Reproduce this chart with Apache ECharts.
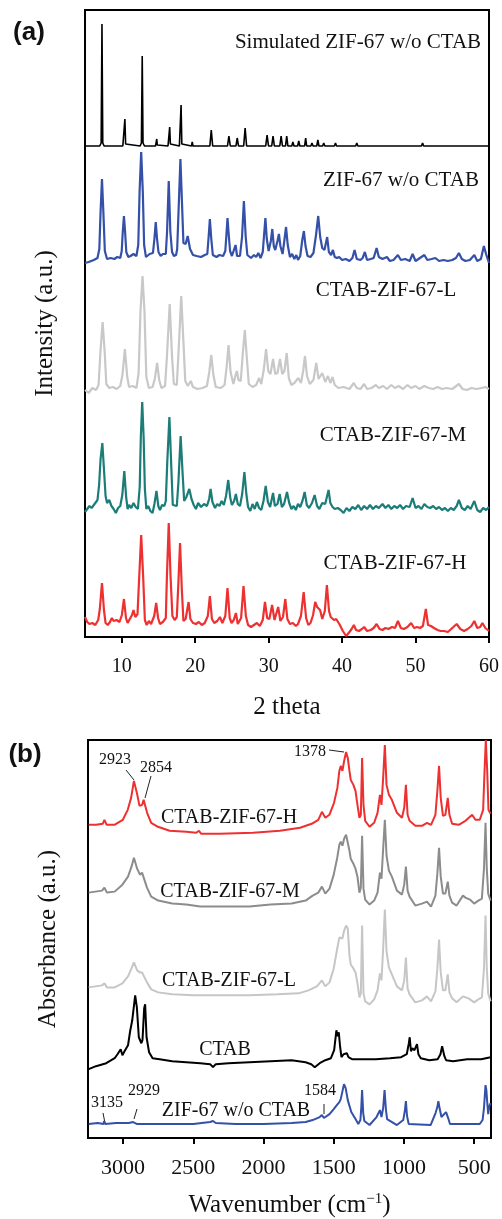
<!DOCTYPE html>
<html>
<head>
<meta charset="utf-8">
<script src="https://cdn.jsdelivr.net/npm/echarts@6/dist/echarts.min.js"></script>
<style>
  html, body { margin: 0; padding: 0; background: #fff; }
  #main { width: 502px; height: 1219px; }
</style>
</head>
<body>
<div id="main"></div>
<script>
// ---- (a) XRD, [2theta, intensity + offset] ----
var simulatedXrd = [[5,491],[7.0,491],[7.2,494],[7.31,613],[7.42,494],[7.6,491],
  [10.15,491],[10.33,493],[10.43,518],[10.53,493],[10.7,491],
  [12.5,491],[12.68,494],[12.79,581],[12.9,494],[13.1,491],
  [14.6,491],[14.7,492],[14.77,498],[14.84,492],[14.95,491],
  [16.3,491],[16.44,493],[16.53,510],[16.62,493],[16.8,491],
  [17.85,491],[17.98,493],[18.08,532],[18.18,493],[18.35,491],
  [19.5,491],[19.6,495],[19.7,491],[22.0,491],[22.19,507],[22.38,491],
  [24.4,491],[24.59,501],[24.78,491],[25.55,491],[25.72,499],[25.9,491],
  [26.6,491],[26.8,509],[27.0,491],[29.6,491],[29.79,502],[29.98,491],
  [30.42,491],[30.6,501],[30.78,491],[31.52,491],[31.7,501],[31.88,491],
  [32.3,491],[32.46,501],[32.62,491],[33.15,491],[33.3,495],[33.45,491],
  [33.95,491],[34.1,496],[34.25,491],[34.9,491],[35.04,499],[35.18,491],
  [35.75,491],[35.9,494],[36.05,491],[36.55,491],[36.7,497],[36.85,491],
  [37.35,491],[37.5,494],[37.65,491],[38.95,491],[39.1,494],[39.25,491],
  [41.85,491],[42.0,494],[42.15,491],[43.05,491],[43.2,493],[43.35,491],
  [44.05,491],[44.2,493],[44.35,491],[45.1,491],[45.25,493],[45.4,491],
  [46.5,491],[46.65,493],[46.8,491],[48.0,491],[48.15,493],[48.3,491],
  [49.0,491],[49.15,493],[49.3,491],[49.82,491],[49.97,493],[50.12,491],
  [50.8,491],[50.96,494],[51.1,491],[51.95,491],[52.1,493],[52.25,491],
  [53.05,491],[53.2,493],[53.35,491],[54.05,491],[54.2,493],[54.35,491],
  [55.1,491],[55.25,493],[55.4,491],[56.45,491],[56.6,493],[56.75,491],
  [57.55,491],[57.7,493],[57.85,491],[58.75,491],[58.9,493],[59.05,491],[60,491]];

var zif67Xrd = [[5.0,374],[5.5,375],[6.2,377],[6.7,379],[6.95,388],[7.12,425],[7.31,458],[7.5,425],[7.7,386],[8.0,378],[8.5,379],[9.0,378],[9.4,380],[9.8,379],[10.0,386],[10.14,405],[10.3,421],[10.46,405],[10.62,385],[10.9,380],[11.2,381],[11.6,383],[12.0,381],[12.25,392],[12.43,445],[12.65,485],[12.87,445],[13.05,392],[13.3,380],[13.8,383],[14.25,384],[14.45,398],[14.63,415],[14.81,398],[15.0,385],[15.3,381],[15.6,383],[16.0,383],[16.17,405],[16.4,456],[16.62,405],[16.85,385],[17.1,381],[17.4,382],[17.55,388],[17.78,435],[17.99,478],[18.2,435],[18.4,394],[18.7,393],[18.98,401],[19.3,388],[19.7,382],[20.2,381],[20.8,380],[21.3,382],[21.65,383],[21.83,400],[22.0,418],[22.17,400],[22.4,382],[22.9,380],[23.3,382],[23.8,381],[24.1,386],[24.25,402],[24.4,419],[24.57,402],[24.75,386],[25.0,381],[25.2,383],[25.5,392],[25.7,381],[26.1,381],[26.38,400],[26.63,436],[26.88,400],[27.1,382],[27.6,379],[28.0,382],[28.3,380],[28.6,384],[28.9,379],[29.2,385],[29.38,402],[29.56,419],[29.75,398],[30.0,386],[30.3,396],[30.5,408],[30.7,391],[30.9,387],[31.2,396],[31.4,403],[31.6,391],[31.9,383],[32.15,397],[32.37,410],[32.6,392],[32.9,380],[33.2,383],[33.5,378],[33.77,382],[34.0,377],[34.3,381],[34.58,397],[34.8,406],[35.02,391],[35.3,381],[35.7,380],[36.1,384],[36.45,402],[36.75,421],[37.02,400],[37.3,389],[37.6,387],[37.97,400],[38.2,385],[38.5,382],[38.75,387],[39.0,380],[39.3,379],[39.6,380],[40.0,377],[40.5,378],[41.0,376],[41.4,379],[41.7,387],[42.0,378],[42.5,377],[42.8,379],[43.1,385],[43.4,377],[43.9,378],[44.3,379],[44.7,389],[45.0,380],[45.5,378],[46.1,380],[46.5,376],[47.0,377],[47.6,382],[48.0,377],[48.6,378],[49.2,376],[49.6,383],[50.0,376],[50.6,379],[51.2,382],[51.6,377],[52.2,378],[52.7,379],[53.2,376],[53.8,377],[54.4,376],[55.0,377],[55.5,379],[55.9,384],[56.3,378],[56.8,376],[57.4,377],[58.0,382],[58.4,376],[58.9,378],[59.3,391],[59.6,383],[60,374]];

var ctabLXrd = [[5.0,247],[5.5,244],[6.0,249],[6.5,247],[6.85,252],[7.1,285],[7.4,315],[7.68,285],[7.9,253],[8.3,249],[8.8,250],[9.3,248],[9.8,251],[10.1,262],[10.43,288],[10.75,260],[11.0,250],[11.5,251],[12.0,249],[12.3,264],[12.55,325],[12.83,361],[13.1,325],[13.35,260],[13.7,249],[14.2,250],[14.5,258],[14.82,274],[15.1,257],[15.4,249],[15.9,251],[16.15,280],[16.53,333],[16.85,280],[17.1,253],[17.5,252],[17.8,295],[18.1,341],[18.4,295],[18.65,256],[19.0,251],[19.4,256],[19.7,250],[20.3,248],[21.0,249],[21.6,251],[21.92,265],[22.19,282],[22.48,262],[22.8,250],[23.5,249],[24.0,252],[24.28,270],[24.54,292],[24.82,265],[25.2,253],[25.5,262],[25.68,266],[25.9,257],[26.2,256],[26.5,285],[26.76,307],[27.02,280],[27.3,253],[27.8,250],[28.3,252],[28.7,259],[29.0,253],[29.35,268],[29.65,288],[29.95,266],[30.25,263],[30.6,278],[30.9,263],[31.2,264],[31.55,278],[31.85,263],[32.15,266],[32.46,284],[32.75,259],[33.1,252],[33.5,254],[34.04,259],[34.4,254],[34.7,266],[34.95,281],[35.22,261],[35.6,253],[36.1,257],[36.48,274],[36.8,258],[37.3,264],[37.7,255],[38.07,261],[38.4,254],[38.7,260],[39.0,252],[39.5,249],[40.2,250],[41.0,248],[41.6,254],[42.0,249],[42.5,248],[43.0,253],[43.4,248],[44.0,249],[44.6,252],[45.0,249],[45.6,251],[46.1,248],[46.7,252],[47.2,249],[47.7,251],[48.3,248],[48.9,252],[49.4,249],[50.0,251],[50.5,248],[51.2,251],[51.8,249],[52.4,248],[53.0,250],[53.6,248],[54.2,249],[55.0,248],[55.9,253],[56.4,248],[57.0,247],[57.6,249],[58.3,248],[59.0,249],[59.5,250],[60,248]];

var ctabMXrd = [[5.0,125],[5.3,128],[5.6,131],[5.9,129],[6.3,133],[6.7,137],[6.92,152],[7.12,178],[7.36,194],[7.58,168],[7.8,141],[8.0,134],[8.3,137],[8.6,131],[8.9,128],[9.2,124],[9.5,129],[9.8,131],[10.08,142],[10.35,166],[10.6,140],[10.8,128],[11.0,132],[11.3,129],[11.6,134],[11.9,130],[12.2,128],[12.45,150],[12.6,200],[12.79,235],[12.98,200],[13.15,148],[13.35,128],[13.6,131],[13.9,126],[14.2,124],[14.45,133],[14.73,146],[14.98,131],[15.2,127],[15.5,132],[15.8,131],[16.0,136],[16.2,175],[16.49,220],[16.75,170],[16.95,132],[17.2,133],[17.5,131],[17.72,155],[18.02,201],[18.3,162],[18.5,136],[18.8,140],[19.2,148],[19.5,138],[19.8,132],[20.1,128],[20.4,134],[20.8,130],[21.2,133],[21.6,131],[21.9,138],[22.1,148],[22.35,135],[22.7,129],[23.0,133],[23.3,131],[23.6,136],[23.9,132],[24.2,141],[24.5,157],[24.78,139],[25.0,132],[25.3,136],[25.54,143],[25.8,133],[26.1,131],[26.4,143],[26.7,165],[26.98,142],[27.2,130],[27.5,126],[27.8,133],[28.1,128],[28.4,135],[28.7,129],[29.0,127],[29.3,136],[29.6,151],[29.9,135],[30.2,130],[30.6,144],[30.85,131],[31.2,133],[31.5,143],[31.8,130],[32.1,133],[32.5,145],[32.8,134],[33.1,128],[33.4,131],[33.7,127],[34.0,133],[34.3,130],[34.6,136],[34.9,145],[35.2,132],[35.5,129],[35.9,134],[36.26,142],[36.6,131],[36.9,128],[37.3,134],[37.7,133],[38.16,147],[38.4,134],[38.7,130],[39.0,128],[39.4,129],[39.8,127],[40.2,124],[40.6,129],[41.0,126],[41.4,130],[41.8,128],[42.2,132],[42.6,127],[43.0,131],[43.4,128],[43.8,132],[44.2,128],[44.6,131],[45.0,129],[45.5,133],[45.9,129],[46.3,132],[46.7,128],[47.1,131],[47.5,129],[47.9,132],[48.3,128],[48.7,131],[49.2,130],[49.6,139],[50.0,129],[50.4,131],[50.8,128],[51.2,133],[51.6,130],[52.0,129],[52.4,131],[52.8,128],[53.2,130],[53.6,127],[54.0,129],[54.4,126],[54.8,129],[55.2,127],[55.6,131],[55.9,137],[56.3,129],[56.7,127],[57.1,131],[57.5,128],[58.0,136],[58.4,127],[58.8,125],[59.2,129],[59.6,127],[60,130]];

var ctabHXrd = [[5.0,20],[5.3,15],[5.6,13],[6.0,14],[6.4,12],[6.8,17],[7.02,28],[7.31,54],[7.58,27],[7.8,14],[8.1,12],[8.4,15],[8.66,19],[8.9,16],[9.3,17],[9.7,15],[10.02,22],[10.3,38],[10.58,19],[10.8,14],[11.1,18],[11.4,22],[11.6,27],[11.85,20],[12.15,23],[12.38,60],[12.65,102],[12.92,60],[13.15,17],[13.4,12],[13.7,16],[14.0,13],[14.42,21],[14.69,34],[14.95,19],[15.2,13],[15.6,15],[16.0,19],[16.15,60],[16.4,114],[16.65,60],[16.9,21],[17.2,17],[17.5,20],[17.7,52],[17.94,94],[18.18,48],[18.4,16],[18.7,18],[19.1,35],[19.35,18],[19.7,14],[20.1,13],[20.5,15],[20.9,12],[21.3,14],[21.72,21],[22.0,41],[22.28,18],[22.6,14],[23.0,16],[23.37,20],[23.7,14],[24.1,21],[24.4,49],[24.7,19],[24.95,14],[25.25,17],[25.54,24],[25.8,13],[26.25,19],[26.58,51],[26.9,21],[27.2,12],[27.6,10],[28.0,12],[28.4,14],[28.8,11],[29.2,17],[29.5,35],[29.8,19],[30.1,18],[30.47,32],[30.8,17],[31.0,18],[31.3,30],[31.6,16],[31.95,20],[32.27,38],[32.55,18],[32.9,13],[33.3,14],[33.7,11],[34.0,13],[34.4,21],[34.77,45],[35.1,19],[35.4,12],[35.7,14],[36.05,22],[36.34,35],[36.6,30],[37.0,27],[37.3,18],[37.65,26],[37.93,52],[38.22,26],[38.45,20],[38.65,22],[38.9,17],[39.2,18],[39.4,17],[39.7,12],[40.1,6],[40.55,1],[41.0,5],[41.3,8],[41.6,12],[41.9,7],[42.3,6],[42.7,8],[43.0,10],[43.4,6],[43.9,7],[44.3,9],[44.7,13],[45.1,8],[45.5,7],[45.9,9],[46.3,8],[46.8,10],[47.2,9],[47.6,16],[48.0,9],[48.4,8],[48.9,10],[49.4,14],[49.8,9],[50.2,10],[50.6,9],[51.0,11],[51.4,28],[51.7,12],[52.1,11],[52.5,9],[53.0,7],[53.4,6],[53.9,6],[54.4,5],[55.0,9],[55.6,13],[56.1,8],[56.6,6],[57.1,8],[57.6,11],[58.0,16],[58.4,9],[58.8,10],[59.1,14],[59.5,9],[60,6]];

// ---- (b) FTIR, [wavenumber, absorbance + offset] ----
var ftirH = [[3245,314],[3193,314],[3145,315],[3133,319],[3117,314],[3062,314],[3002,319],[2967,329],[2943,341],[2923,358],[2902,346],[2883,333],[2864,334],[2854,339],[2829,326],[2800,316],[2752,312],[2669,308],[2550,307],[2479,306],[2460,308],[2443,305],[2312,305],[2074,306],[1883,308],[1740,311],[1657,315],[1610,319],[1584,327],[1560,321],[1531,324],[1498,336],[1474,351],[1460,368],[1450,373],[1438,368],[1426,378],[1412,387],[1400,381],[1388,368],[1379,359],[1369,361],[1360,354],[1345,348],[1331,334],[1317,321],[1307,324],[1298,381],[1288,334],[1276,318],[1245,312],[1212,316],[1188,326],[1171,344],[1160,334],[1148,361],[1136,394],[1124,354],[1107,344],[1086,339],[1050,326],[1014,321],[998,331],[986,354],[974,324],[960,318],[919,313],[872,313],[836,316],[807,314],[776,324],[762,348],[750,373],[738,341],[722,323],[705,324],[688,341],[676,324],[657,315],[610,314],[562,318],[514,324],[491,319],[460,319],[436,329],[426,368],[417,399],[407,368],[398,329],[383,325]];

var ftirM = [[3245,246],[3150,248],[3133,251],[3115,246],[3060,247],[3005,254],[2965,262],[2940,272],[2923,281],[2900,270],[2880,264],[2865,266],[2854,265],[2830,251],[2800,242],[2750,238],[2650,235],[2550,234],[2450,232],[2300,232],[2100,232],[1950,234],[1800,235],[1700,238],[1650,243],[1610,246],[1584,252],[1560,245],[1530,250],[1500,264],[1475,281],[1460,294],[1450,297],[1438,293],[1426,300],[1412,304],[1400,302],[1388,288],[1379,280],[1369,282],[1360,275],[1345,270],[1331,262],[1317,246],[1307,251],[1298,303],[1288,250],[1276,239],[1245,234],[1212,238],[1188,246],[1171,266],[1160,260],[1148,290],[1136,319],[1124,283],[1107,268],[1086,262],[1050,248],[1014,244],[998,254],[986,272],[974,248],[960,242],[919,233],[872,235],[836,237],[807,232],[776,243],[762,265],[750,291],[738,262],[722,245],[705,245],[688,257],[676,243],[657,236],[625,233],[580,243],[562,241],[530,239],[500,235],[470,238],[445,240],[430,270],[419,316],[410,270],[400,245],[383,238]];

var ftirL = [[3245,151],[3150,153],[3133,155],[3115,151],[3060,151],[3005,155],[2965,162],[2940,170],[2923,176],[2900,168],[2880,166],[2865,166],[2854,165],[2830,156],[2800,149],[2750,146],[2650,144],[2500,143],[2300,143],[2100,143],[1900,144],[1750,145],[1680,148],[1620,152],[1584,158],[1560,152],[1530,156],[1500,170],[1475,190],[1460,201],[1450,203],[1438,200],[1426,208],[1412,213],[1400,210],[1388,183],[1379,174],[1369,176],[1360,170],[1345,166],[1331,155],[1317,141],[1307,145],[1298,213],[1288,145],[1276,137],[1245,134],[1212,139],[1188,148],[1171,165],[1160,158],[1148,190],[1136,229],[1124,187],[1107,171],[1086,164],[1050,152],[1014,148],[998,158],[986,181],[974,150],[960,144],[919,136],[872,138],[836,142],[807,137],[776,147],[762,170],[750,199],[738,166],[722,148],[705,148],[688,164],[676,146],[657,140],[625,136],[580,142],[540,140],[500,136],[470,139],[445,141],[430,170],[419,223],[410,170],[400,145],[383,137]];

var ftirCtab = [[3245,69],[3193,72],[3120,75],[3060,80],[3040,84],[3017,89],[3005,83],[2990,87],[2965,93],[2950,107],[2935,118],[2914,143],[2902,131],[2888,101],[2870,95],[2862,98],[2850,130],[2843,134],[2833,101],[2815,86],[2790,80],[2740,79],[2650,77],[2550,76],[2450,75],[2380,74],[2360,71],[2340,74],[2250,75],[2100,76],[1950,77],[1800,78],[1700,76],[1660,74],[1635,71],[1600,75],[1560,78],[1520,80],[1497,88],[1481,108],[1474,102],[1464,106],[1455,92],[1445,81],[1430,84],[1418,86],[1407,85],[1395,81],[1370,79],[1300,79],[1200,79],[1100,80],[1020,81],[980,84],[965,95],[959,101],[950,87],[940,90],[925,88],[907,94],[897,84],[880,80],[820,78],[760,79],[740,84],[728,92],[721,93],[712,82],[700,78],[650,77],[550,79],[450,79],[383,81]];

var ftirZif = [[3245,14],[3180,15],[3140,14],[3135,17],[3128,14],[3050,15],[2960,15],[2929,16],[2900,14],[2700,14],[2500,14],[2380,16],[2360,17],[2340,15],[2200,14],[2000,14],[1800,15],[1700,16],[1650,18],[1600,21],[1584,23],[1570,20],[1530,24],[1500,29],[1478,33],[1460,36],[1450,39],[1438,37],[1427,54],[1415,50],[1400,38],[1375,26],[1345,19],[1325,14],[1310,18],[1304,30],[1298,48],[1290,25],[1282,17],[1245,13],[1195,21],[1171,28],[1160,21],[1148,30],[1138,48],[1128,28],[1120,19],[1050,13],[1005,18],[993,28],[986,37],[978,22],[966,14],[810,13],[775,25],[762,31],[755,37],[745,29],[733,21],[700,26],[693,27],[685,20],[672,14],[460,14],[440,18],[430,30],[419,53],[413,48],[408,38],[400,24],[392,32],[383,35]];

var xrdTicks = [10, 20, 30, 40, 50, 60];
var ftirTicks = [500, 1000, 1500, 2000, 2500, 3000];
var xrdNames = ['Simulated ZIF-67 w/o CTAB', 'ZIF-67 w/o CTAB', 'CTAB-ZIF-67-L', 'CTAB-ZIF-67-M', 'CTAB-ZIF-67-H'];
var ftirNames = ['CTAB-ZIF-67-H', 'CTAB-ZIF-67-M', 'CTAB-ZIF-67-L', 'CTAB', 'ZIF-67 w/o CTAB'];
var peakNotes = ['2923', '2854', '1378', '3135', '2929', '1584'];

var serif = '"Liberation Serif", "Times New Roman", serif';
var chart = echarts.init(document.getElementById('main'));

function lineSeries(name, data, color, idx, width) {
    return {
        name: name,
        type: 'line',
        xAxisIndex: idx,
        yAxisIndex: idx,
        data: data,
        showSymbol: false,
        symbol: 'none',
        silent: true,
        lineStyle: { color: color, width: width || 2 },
        z: 3
    };
}

function txt(x, y, s, size) {
    return {
        type: 'text', x: x, y: y,
        style: { text: s, font: (size || 20) + 'px ' + serif, fill: '#111', align: 'center', verticalAlign: 'middle' }
    };
}

// 引线
function lead(x1, y1, x2, y2) {
    return { type: 'line', shape: { x1: x1, y1: y1, x2: x2, y2: y2 }, style: { stroke: '#222', lineWidth: 1 } };
}

var axisCommon = {
    type: 'value',
    axisLine: { show: true, lineStyle: { color: '#000', width: 2 } },
    axisTick: { show: true, inside: false, length: 6, lineStyle: { color: '#000', width: 2 } },
    splitLine: { show: false },
    nameLocation: 'middle'
};

var plain = function (v) { return String(v); };

var option = {
    animation: false,
    backgroundColor: '#fff',
    grid: [
        { left: 85, right: 12, top: 10, bottom: 582, show: true, borderColor: '#000', borderWidth: 2 },
        { left: 88, right: 11, top: 740, bottom: 80, show: true, borderColor: '#000', borderWidth: 2 }
    ],
    xAxis: [
        Object.assign({}, axisCommon, {
            gridIndex: 0, min: 5, max: 60,
            name: '2 theta', nameGap: 58,
            nameTextStyle: { fontFamily: serif, fontSize: 25, color: '#111' },
            axisTick: Object.assign({}, axisCommon.axisTick, { customValues: xrdTicks }),
            axisLabel: { customValues: xrdTicks, formatter: plain, fontFamily: serif, fontSize: 20, color: '#111', margin: 20 }
        }),
        Object.assign({}, axisCommon, {
            gridIndex: 1, min: 380, max: 3250, inverse: true,
            name: 'Wavenumber (cm{sup|\u22121})', nameGap: 54,
            nameTextStyle: {
                fontFamily: serif, fontSize: 25, color: '#111',
                rich: { sup: { fontFamily: serif, fontSize: 15, color: '#111', verticalAlign: 'top', padding: [0, 0, 12, 0] } }
            },
            axisTick: Object.assign({}, axisCommon.axisTick, { customValues: ftirTicks }),
            axisLabel: { customValues: ftirTicks, formatter: plain, fontFamily: serif, fontSize: 22, color: '#111', margin: 19 }
        })
    ],
    yAxis: [
        {
            type: 'value', gridIndex: 0, min: 0, max: 627,
            axisLine: { show: false }, axisTick: { show: false }, axisLabel: { show: false }, splitLine: { show: false },
            name: 'Intensity (a.u.)', nameLocation: 'middle', nameGap: 27,
            nameTextStyle: { fontFamily: serif, fontSize: 25, color: '#111' }
        },
        {
            type: 'value', gridIndex: 1, min: 0, max: 399,
            axisLine: { show: false }, axisTick: { show: false }, axisLabel: { show: false }, splitLine: { show: false },
            name: 'Absorbance (a.u.)', nameLocation: 'middle', nameGap: 27,
            nameTextStyle: { fontFamily: serif, fontSize: 25, color: '#111' }
        }
    ],
    series: [
        lineSeries(xrdNames[0], simulatedXrd, '#000000', 0, 1.6),
        lineSeries(xrdNames[1], zif67Xrd, '#3450a8', 0, 2.2),
        lineSeries(xrdNames[2], ctabLXrd, '#c8c8c8', 0, 2.2),
        lineSeries(xrdNames[3], ctabMXrd, '#1b7c78', 0, 2.2),
        lineSeries(xrdNames[4], ctabHXrd, '#ee3030', 0, 2.2),
        lineSeries(ftirNames[0], ftirH, '#ee3030', 1, 2),
        lineSeries(ftirNames[1], ftirM, '#8c8c8c', 1, 2),
        lineSeries(ftirNames[2], ftirL, '#c6c6c6', 1, 2),
        lineSeries(ftirNames[3], ftirCtab, '#000000', 1, 2),
        lineSeries(ftirNames[4], ftirZif, '#3450a8', 1, 2)
    ],
    graphic: [
        { type: 'text', x: 29, y: 33, style: { text: '(a)', font: 'bold 26px "Liberation Sans", Arial, sans-serif', fill: '#111', align: 'center', verticalAlign: 'middle' } },
        { type: 'text', x: 25, y: 755, style: { text: '(b)', font: 'bold 26px "Liberation Sans", Arial, sans-serif', fill: '#111', align: 'center', verticalAlign: 'middle' } },
        txt(358, 42, xrdNames[0], 21),
        txt(401, 180, xrdNames[1], 21),
        txt(386, 290, xrdNames[2], 21),
        txt(393, 435, xrdNames[3], 21),
        txt(395, 563, xrdNames[4], 21),
        txt(229, 818, ftirNames[0], 20),
        txt(230, 892, ftirNames[1], 20),
        txt(229, 981, ftirNames[2], 20),
        txt(225, 1050, ftirNames[3], 20),
        txt(236, 1111, ftirNames[4], 20),
        txt(115, 760, peakNotes[0], 16),
        txt(156, 768, peakNotes[1], 16),
        txt(310, 752, peakNotes[2], 16),
        txt(107, 1103, peakNotes[3], 16),
        txt(144, 1091, peakNotes[4], 16),
        txt(320, 1091, peakNotes[5], 16),
        lead(126, 770, 134, 780),
        lead(151, 776, 145, 798),
        lead(329, 750, 344, 752),
        lead(103, 1113, 105, 1123),
        lead(137, 1109, 134, 1119),
        lead(324, 1104, 324, 1114)
    ]
};

chart.setOption(option);
</script>
</body>
</html>
